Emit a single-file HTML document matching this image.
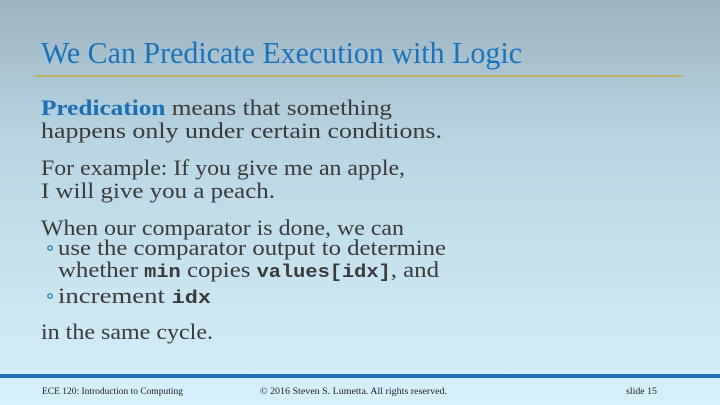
<!DOCTYPE html>
<html><head><meta charset="utf-8"><style>
html,body{margin:0;padding:0;width:720px;height:405px;overflow:hidden}
svg{display:block}
text{font-family:"Liberation Serif",serif;fill:#3a3a3a;font-size:22px}
.b{font-weight:bold;fill:#1a6fb5}
.m{font-family:"Liberation Mono",monospace;font-weight:bold;fill:#3a3a3a;font-size:18px}
.f{font-size:9px;fill:#222}
.t{font-size:31px;fill:#1a72b8}
</style></head><body>
<svg width="720" height="405">
<defs><linearGradient id="bg" x1="0" y1="0" x2="0" y2="1">
<stop offset="0" stop-color="#9db3c1"/><stop offset="0.35" stop-color="#b7d5e3"/><stop offset="1" stop-color="#d5f1fb"/>
</linearGradient></defs>
<rect width="720" height="405" fill="url(#bg)"/>
<text class="t" x="41" y="63" textLength="481" lengthAdjust="spacingAndGlyphs">We Can Predicate Execution with Logic</text>
<rect x="35" y="75" width="648" height="2" fill="#c0b06a"/>
<g>
<text x="41" y="115" textLength="351" lengthAdjust="spacingAndGlyphs"><tspan class="b">Predication</tspan> means that something</text>
<text x="41" y="138" textLength="401" lengthAdjust="spacingAndGlyphs">happens only under certain conditions.</text>
<text x="41" y="175" textLength="364" lengthAdjust="spacingAndGlyphs">For example: If you give me an apple,</text>
<text x="41" y="198" textLength="234" lengthAdjust="spacingAndGlyphs">I will give you a peach.</text>
<text x="41" y="235" textLength="363" lengthAdjust="spacingAndGlyphs">When our comparator is done, we can</text>
<circle cx="50" cy="248" r="2.2" fill="none" stroke="#1a72b8" stroke-width="1.2"/>
<text x="58" y="255" textLength="388" lengthAdjust="spacingAndGlyphs">use the comparator output to determine</text>
<text x="58" y="277" textLength="381" lengthAdjust="spacingAndGlyphs">whether <tspan class="m">min</tspan> copies <tspan class="m">values[idx]</tspan>, and</text>
<circle cx="50" cy="296" r="2.2" fill="none" stroke="#1a72b8" stroke-width="1.2"/>
<text x="58" y="303" textLength="153" lengthAdjust="spacingAndGlyphs">increment <tspan class="m">idx</tspan></text>
<text x="41" y="339" textLength="172" lengthAdjust="spacingAndGlyphs">in the same cycle.</text>
</g>
<rect x="0" y="374" width="720" height="4" fill="#1a72b8"/>
<text class="f" x="42" y="394" textLength="141" lengthAdjust="spacingAndGlyphs">ECE 120: Introduction to Computing</text>
<text class="f" x="260" y="394" textLength="187" lengthAdjust="spacingAndGlyphs">© 2016 Steven S. Lumetta.  All rights reserved.</text>
<text class="f" x="626" y="394" textLength="31" lengthAdjust="spacingAndGlyphs">slide 15</text>
</svg>
</body></html>
